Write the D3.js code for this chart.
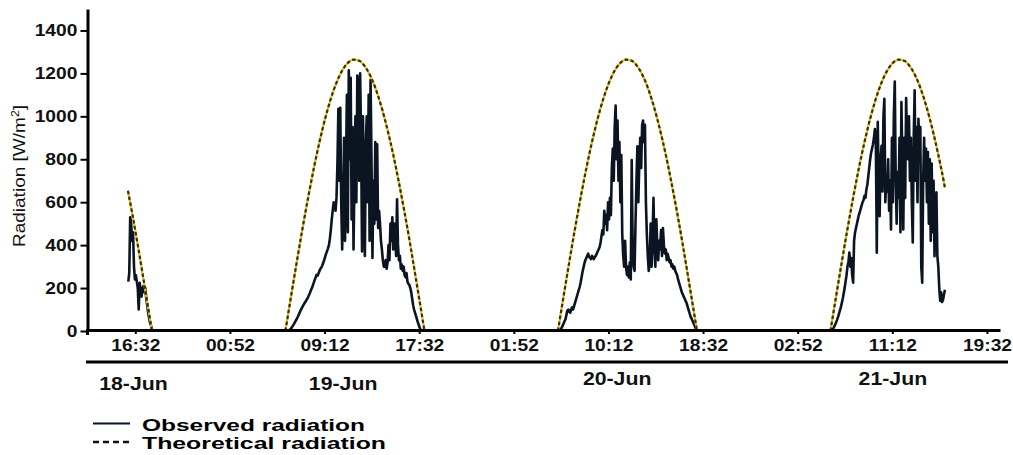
<!DOCTYPE html>
<html><head><meta charset="utf-8">
<script src="https://cdn.jsdelivr.net/npm/d3@7"></script>
<style>
body{margin:0;background:#fff}
svg{display:block}
text{font-family:"Liberation Sans",Arial,Helvetica,sans-serif}
</style>
</head><body>
<svg id="chart" width="1013" height="455"></svg>
<script>
// ---------- data ----------
const yTicks = [0, 200, 400, 600, 800, 1000, 1200, 1400];
const xTickTimes = ["2021-06-18 16:32","2021-06-19 00:52","2021-06-19 09:12","2021-06-19 17:32",
  "2021-06-20 01:52","2021-06-20 10:12","2021-06-20 18:32","2021-06-21 02:52",
  "2021-06-21 11:12","2021-06-21 19:32"];
const dateLabels = ["18-Jun","19-Jun","20-Jun","21-Jun"];
const dateLabelTimes = ["2021-06-18 16:22","2021-06-19 10:50","2021-06-20 10:58","2021-06-21 11:15"];
const legendLabels = ["Observed radiation","Theoretical radiation"];

// observed radiation, 5-minute readings
const obs18Start = "2021-06-18 15:55";
const obs18Values = [230,270,530,500,420,460,300,240,260,230,200,100,225,190,160,200,210,180,200,150,120,85,60,37,25,10];

const obs19Start = "2021-06-19 06:00";
const obs19Values = [
  0,3,8,12,18,25,32,40,48,56,65,75,
  85,95,104,112,120,128,135,142,150,158,168,178,
  190,200,212,225,238,250,262,258,268,280,290,296,
  305,318,330,345,360,372,385,400,430,470,520,560,
  600,590,560,620,780,1035,700,1040,600,380,560,900,
  420,760,1100,460,1215,800,1180,520,950,380,700,1000,
  600,1190,1130,700,1200,900,370,1000,600,350,880,1000,
  600,1100,420,1170,800,340,700,500,880,520,870,480,
  560,500,420,380,330,300,300,330,290,320,400,330,
  500,420,530,380,500,440,350,614,400,330,350,290,
  310,280,300,260,250,270,230,220,215,200,180,150,
  120,100,85,70,55,40,28,15,6,0];

const obs20Start = "2021-06-20 05:55";
const obs20Values = [
  0,
  8,15,25,35,45,55,75,95,100,90,85,100,
  110,100,115,130,145,160,175,190,205,225,250,275,
  295,315,330,340,350,360,345,340,335,350,340,335,
  345,350,360,370,380,390,410,440,470,450,560,500,
  540,470,600,520,620,540,760,850,700,950,1050,800,
  980,700,880,600,820,450,350,300,420,300,260,300,
  250,320,240,796,400,300,280,500,700,860,600,780,
  900,760,960,980,880,960,600,450,350,280,320,500,
  300,440,620,380,300,520,400,330,420,380,470,350,
  480,400,360,380,330,360,340,320,330,300,310,290,
  300,280,270,260,240,225,210,195,180,170,160,150,
  140,130,115,100,85,70,60,50,40,30,18,8,
  0];

const obs21Start = "2021-06-21 05:50";
const obs21Values = [
  0,5,
  12,20,30,40,52,65,80,95,110,130,150,175,
  200,230,260,300,320,365,300,340,260,225,420,459,
  480,500,520,540,553,570,585,600,610,630,620,660,
  680,720,760,800,830,850,870,900,941,880,365,974,
  700,535,800,863,650,1000,1082,600,700,650,800,560,
  700,473,900,600,1000,1162,700,500,740,620,900,460,
  1067,800,473,900,620,1085,880,800,1000,700,900,600,
  412,900,1121,700,950,600,988,850,950,300,225,700,
  900,700,850,600,834,500,800,420,780,460,700,348,
  600,646,350,300,200,140,180,135,145,170,192];

// theoretical radiation
const theoHours = ["05:45","06:15","06:45","07:15","07:45","08:15","08:45","09:15","09:45","10:15",
  "10:45","11:15","11:45","12:15","12:45","13:15","13:45","14:15","14:45","15:15","15:45",
  "16:15","16:45","17:15","17:45","18:00"];
const theoValues = [0,162,321,475,621,757,880,989,1082,1157,1213,1249,1264,1259,1233,1187,1121,
  1037,936,821,691,551,401,242,81,0];
const theo18Hours = ["15:53","16:15","16:45","17:15","17:45","18:00"];
const theo18Values = [653,551,401,242,81,0];
const theo21Hours = ["05:45","06:15","06:45","07:15","07:45","08:15","08:45","09:15","09:45","10:15",
  "10:45","11:15","11:45","12:15","12:45","13:15","13:45","14:15","14:45","15:15","15:45","15:50"];
const theo21Values = [0,162,321,475,621,757,880,989,1082,1157,1213,1249,1264,1259,1233,1187,1121,
  1037,936,821,691,667];

// ---------- chart ----------
const parse = d3.timeParse("%Y-%m-%d %H:%M");
const svg = d3.select("#chart");
svg.append("rect").attr("width",1013).attr("height",455).attr("fill","#fff");

const x = d3.scaleTime()
  .domain([parse("2021-06-18 12:22"), parse("2021-06-21 20:41")])
  .range([88, 1000]);
const y = d3.scaleLinear().domain([0, 1500]).range([331, 9]);

function obsSeries(start, vals) {
  const t0 = +parse(start);
  return vals.map((v, i) => ({ t: new Date(t0 + i * 5 * 60000), v }));
}
function theoSeries(day, hours, vals) {
  return hours.map((h, i) => ({ t: parse(day + " " + h), v: vals[i] }));
}

const obsLine = d3.line().x(d => x(d.t)).y(d => y(d.v));
const theoLine = d3.line().x(d => x(d.t)).y(d => y(d.v)).curve(d3.curveMonotoneX);

const observed = [
  obsSeries(obs18Start, obs18Values),
  obsSeries(obs19Start, obs19Values),
  obsSeries(obs20Start, obs20Values),
  obsSeries(obs21Start, obs21Values)
];
const theoretical = [
  theoSeries("2021-06-18", theo18Hours, theo18Values),
  theoSeries("2021-06-19", theoHours, theoValues),
  theoSeries("2021-06-20", theoHours, theoValues),
  theoSeries("2021-06-21", theo21Hours, theo21Values)
];

const plot = svg.append("g");
plot.selectAll("path.obs").data(observed).join("path")
  .attr("class","obs")
  .attr("d", obsLine)
  .attr("fill","none").attr("stroke","#0b1522").attr("stroke-width",2.6)
  .attr("stroke-linejoin","round");

plot.selectAll("path.theoBase").data(theoretical).join("path")
  .attr("class","theoBase")
  .attr("d", theoLine)
  .attr("fill","none").attr("stroke","#e2c030").attr("stroke-width",2.2);
plot.selectAll("path.theo").data(theoretical).join("path")
  .attr("class","theo")
  .attr("d", theoLine)
  .attr("fill","none").attr("stroke","#3a3008").attr("stroke-width",2.2)
  .attr("stroke-dasharray","3.5,2.5");

// x axis
const xAxis = svg.append("g").attr("transform","translate(0,330)")
  .call(d3.axisBottom(x).tickValues(xTickTimes.map(parse))
    .tickFormat(d3.timeFormat("%H:%M")).tickSize(4).tickPadding(5).tickSizeOuter(0));
xAxis.select(".domain").attr("stroke","#000").attr("stroke-width",3);
xAxis.selectAll(".tick line").attr("stroke","#000").attr("stroke-width",2);
xAxis.selectAll(".tick text").attr("fill","#111").attr("font-size",17).attr("font-weight","bold")
  .attr("transform","scale(1.13,1)");

// y axis
const yAxis = svg.append("g").attr("transform","translate(87.5,0)")
  .call(d3.axisLeft(y).tickValues(yTicks).tickFormat(d3.format("d"))
    .tickSize(7).tickPadding(2).tickSizeOuter(0));
yAxis.select(".domain").attr("stroke","#000").attr("stroke-width",3);
yAxis.selectAll(".tick line").attr("stroke","#000").attr("stroke-width",2);
yAxis.selectAll(".tick text").attr("fill","#111").attr("font-size",17).attr("font-weight","bold")
  .attr("transform","scale(1.13,1)");
svg.append("line").attr("x1",87.5).attr("x2",87.5).attr("y1",329).attr("y2",335)
  .attr("stroke","#000").attr("stroke-width",3);

// y label
const yl = svg.append("text")
  .attr("transform","translate(25,176) rotate(-90) scale(1.12,1)")
  .attr("text-anchor","middle").attr("font-size",17).attr("fill","#111");
yl.append("tspan").text("Radiation [W/m");
yl.append("tspan").attr("baseline-shift","super").attr("font-size",11).text("2");
yl.append("tspan").text("]");

// date separator line
svg.append("line").attr("x1",86).attr("x2",1008).attr("y1",362).attr("y2",362)
  .attr("stroke","#000").attr("stroke-width",3);

// date labels
const dateBaselines = [390, 390, 384.5, 384.5];
svg.selectAll("text.date").data(dateLabels).join("text")
  .attr("class","date")
  .attr("transform",(d,i)=>`translate(${x(parse(dateLabelTimes[i]))},${dateBaselines[i]}) scale(1.15,1)`)
  .attr("text-anchor","middle").attr("font-size",18.5).attr("font-weight","bold").attr("fill","#111")
  .text(d=>d);

// legend
const lg = svg.append("g");
lg.append("line").attr("x1",93).attr("x2",130).attr("y1",423.5).attr("y2",423.5)
  .attr("stroke","#0b1522").attr("stroke-width",2);
lg.append("line").attr("x1",93).attr("x2",131).attr("y1",442).attr("y2",442)
  .attr("stroke","#111").attr("stroke-width",2.5).attr("stroke-dasharray","6,4");
lg.selectAll("text").data(legendLabels).join("text")
  .attr("x",142).attr("y",(d,i)=> i===0 ? 430.5 : 449)
  .attr("font-size",17).attr("font-weight","bold").attr("fill","#000")
  .attr("textLength",(d,i)=> i===0 ? 223 : 244).attr("lengthAdjust","spacingAndGlyphs")
  .text(d=>d);
</script>
</body></html>
